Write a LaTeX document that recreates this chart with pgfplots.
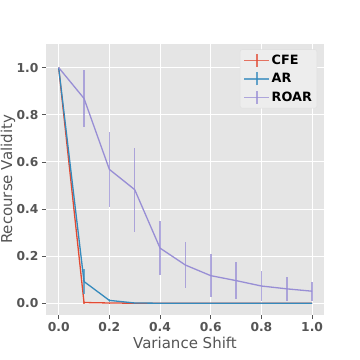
\documentclass[border=0pt]{standalone}
\usepackage{fontspec}
\setmainfont{DejaVu Sans}
\usepackage{pgfplots}
\pgfplotsset{compat=1.18}
\definecolor{ggbg}{HTML}{E5E5E5}
\definecolor{ggtext}{HTML}{555555}
\definecolor{cfe}{HTML}{E24A33}
\definecolor{ar}{HTML}{348ABD}
\definecolor{roar}{HTML}{988ED5}

\pgfplotsset{
  errleg/.style={legend image code/.code={
    \draw[#1, line width=1.5pt, opacity=0.75] (0pt,0pt) -- (25pt,0pt);
    \draw[#1, line width=1.5pt, opacity=0.75] (12.5pt,-6.5pt) -- (12.5pt,6.5pt);
  }},
}

\begin{document}
\begin{tikzpicture}
\begin{axis}[
  scale only axis,
  width=278pt, height=271pt,
  xmin=-0.05, xmax=1.047,
  ymin=-0.05, ymax=1.1,
  axis background/.style={fill=ggbg},
  axis line style={draw=none},
  grid=major,
  grid style={white, line width=0.8pt},
  xtick={0,0.2,0.4,0.6,0.8,1.0},
  ytick={0,0.2,0.4,0.6,0.8,1.0},
  tick align=outside,
  tick pos=left,
  major tick length=4pt,
  tick style={ggtext, line width=0.6pt},
  xticklabel style={/pgf/number format/fixed, /pgf/number format/fixed zerofill, /pgf/number format/precision=1},
  yticklabel style={/pgf/number format/fixed, /pgf/number format/fixed zerofill, /pgf/number format/precision=1},
  /pgf/number format/assume math mode=true,
  ticklabel style={font=\bfseries\fontsize{12.3}{14}\selectfont, text=ggtext},
  xlabel={Variance Shift},
  ylabel={Recourse Validity},
  label style={font=\fontsize{15}{17}\selectfont, text=ggtext},
  xlabel style={yshift=2pt},
  ylabel style={at={(axis description cs:-0.137,0.5)}, anchor=center},
  legend style={at={(0.975,0.98)}, anchor=north east, fill=ggbg!70!white, draw=gray!25, rounded corners=2pt,
    font=\bfseries\fontsize{12.8}{15}\selectfont, row sep=4pt, inner sep=3.5pt,
    nodes={inner sep=1.5pt}},
  legend cell align=left,
  error bars/y dir=both,
  error bars/y explicit,
  error bars/error mark=none,
]
\addplot[cfe, line width=1.3pt, errleg=cfe,
  error bars/error bar style={cfe, line width=1.6pt, opacity=0.7}]
  table[x=x, y=y, y error=e] {
x y e
0.0 1.000 0
0.1 0.003 0.003
0.2 0.001 0.001
0.3 0.000 0
0.4 0.000 0
0.5 0.000 0
0.6 0.000 0
0.7 0.000 0
0.8 0.000 0
0.9 0.000 0
1.0 0.000 0
};
\addlegendentry{CFE}
\addplot[ar, line width=1.3pt, errleg=ar,
  error bars/error bar style={ar, line width=1.6pt, opacity=0.7}]
  table[x=x, y=y, y error=e] {
x y e
0.0 1.000 0
0.1 0.092 0.055
0.2 0.012 0.008
0.3 0.001 0.001
0.4 0.000 0
0.5 0.000 0
0.6 0.000 0
0.7 0.000 0
0.8 0.000 0
0.9 0.000 0
1.0 0.000 0
};
\addlegendentry{AR}
\addplot[roar, line width=1.3pt, errleg=roar,
  error bars/error bar style={roar, line width=1.6pt, opacity=0.75}]
  table[x=x, y=y, y error=e] {
x y e
0.0 1.000 0
0.1 0.869 0.120
0.2 0.568 0.160
0.3 0.482 0.178
0.4 0.234 0.115
0.5 0.162 0.098
0.6 0.117 0.090
0.7 0.096 0.077
0.8 0.073 0.063
0.9 0.061 0.050
1.0 0.051 0.040
};
\addlegendentry{ROAR}
\end{axis}
\pgfresetboundingbox
\path[use as bounding box] (-46pt,-45pt) rectangle (314pt,315pt);
\end{tikzpicture}
\end{document}
